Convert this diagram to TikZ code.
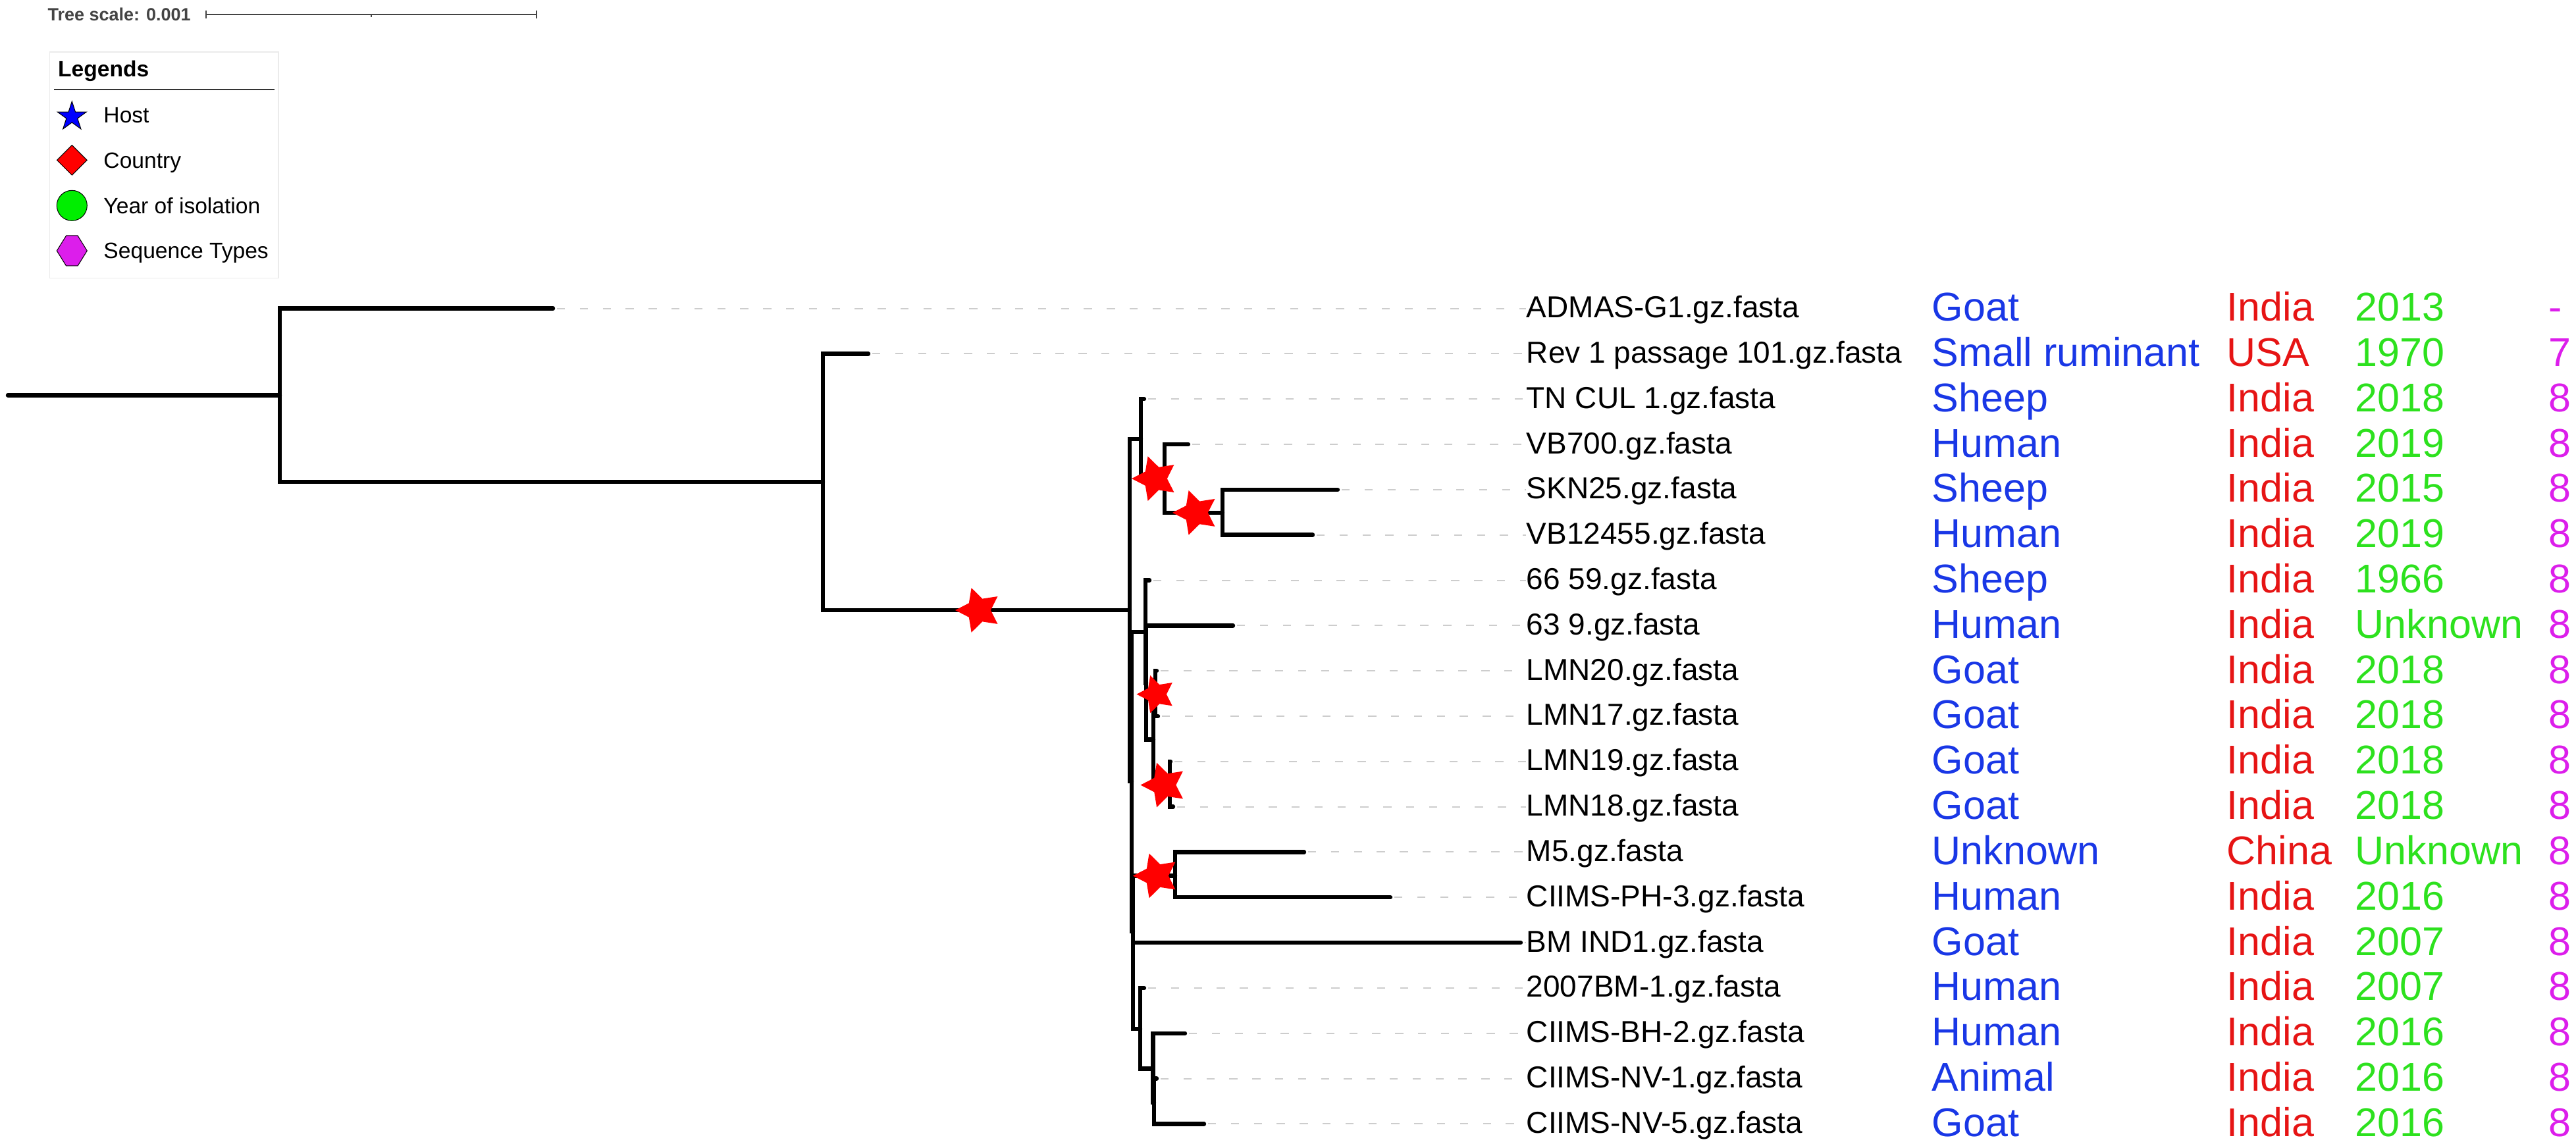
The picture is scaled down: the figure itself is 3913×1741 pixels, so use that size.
\documentclass[tikz,border=0pt]{standalone}
\usepackage{fontspec}
\setmainfont{Liberation Sans}
\usepackage{xcolor}
\usetikzlibrary{shapes.geometric,calc}

\definecolor{hostblue}{RGB}{25,55,230}
\definecolor{countryred}{RGB}{230,20,20}
\definecolor{yeargreen}{RGB}{45,225,30}
\definecolor{stmagenta}{RGB}{220,30,235}
\definecolor{guidegray}{RGB}{205,205,205}
\definecolor{scalegray}{RGB}{68,68,68}

\tikzset{
  branch/.style={line width=1.6pt,line cap=round},
  guide/.style={guidegray,line width=0.5pt,dash pattern=on 3.1pt off 5.6pt,shorten <=1.5pt},
  leaflabel/.style={anchor=west,inner sep=0pt,yshift=0.6pt,font=\fontsize{11.5pt}{13pt}\selectfont,text height=8.2pt,text depth=0pt},
  metalabel/.style={anchor=west,inner sep=0pt,yshift=0.7pt,font=\fontsize{15.25pt}{17pt}\selectfont,text height=10.9pt,text depth=0pt},
  redstar/.style={star,star points=5,star point ratio=1.95,shape border rotate=90,fill=red,inner sep=0pt,minimum size=17.8pt},
  legtext/.style={anchor=west,inner sep=0pt,font=\fontsize{8.4pt}{10pt}\selectfont,text height=6pt,text depth=0pt},
  legsym/.style={draw=black,line width=0.25pt,inner sep=0pt}
}

\begin{document}
\begin{tikzpicture}[x=0.25pt,y=-0.25pt]
\useasboundingbox (0,0) rectangle (3913,1741);

% tree scale
\node[anchor=west,inner sep=0pt,font=\bfseries\fontsize{6.75pt}{8pt}\selectfont,text=scalegray,text height=4.8pt,text depth=0pt] (scaletxt) at (71.7,21.5) {Tree scale: 0.001};
\coordinate (sb0) at (313,22.3);
\coordinate (sb1) at (815,22.3);
\draw[scalegray,line width=0.5pt] (sb0) -- (sb1);
\draw[scalegray,line width=0.5pt] ([yshift=1.5pt]sb0) -- ([yshift=-1.5pt]sb0);
\draw[scalegray,line width=0.5pt] ([yshift=1.5pt]sb1) -- ([yshift=-1.5pt]sb1);
\draw[scalegray,line width=0.5pt] ($(sb0)!.5!(sb1)$) -- ++(0,3.7);

% legend
\draw[black!8,fill=white,line width=0.3pt] (75.7,79) rectangle (423,422.7);
\node[anchor=base west,inner sep=0pt,font=\bfseries\fontsize{8.4pt}{10pt}\selectfont] (legtitle) at (87.3,116.7) {Legends};
\draw[black!80,line width=0.5pt] (82,135.7) -- (416.7,135.7);
\node[legsym,star,star points=5,star point ratio=2.618,fill=blue,minimum size=11.6pt] (khost) at (109.3,177.2) {};
\node[legsym,diamond,aspect=1,fill=red,minimum width=11.5pt,minimum height=11.5pt] (kcountry) at (109.3,243.3) {};
\node[legsym,circle,fill={rgb,255:red,0;green,238;blue,0},minimum size=11.5pt] (kyear) at (109.3,312.3) {};
\coordinate (kst) at (109.3,381);
\filldraw[stmagenta,draw=black,line width=0.25pt] ($(kst)+(-23,0)$) -- ++(14.3,-23) -- ++(17.4,0) -- ++(14.3,23) -- ++(-14.3,23) -- ++(-17.4,0) -- cycle;
\node[legtext] (thost) at (156.7,175) {Host};
\node[legtext] (tcountry) at (156.7,243.3) {Country};
\node[legtext] (tyear) at (156.7,312.3) {Year of isolation};
\node[legtext] (tst) at (156.7,381) {Sequence Types};

% leaves, guides and metadata
\foreach \i/\tip/\strain/\host/\place/\yr/\stype in {
  0/840/ADMAS-G1.gz.fasta/Goat/India/2013/-,
  1/1319/Rev 1 passage 101.gz.fasta/Small ruminant/USA/1970/7,
  2/1738/TN CUL 1.gz.fasta/Sheep/India/2018/8,
  3/1805/VB700.gz.fasta/Human/India/2019/8,
  4/2032/SKN25.gz.fasta/Sheep/India/2015/8,
  5/1994/VB12455.gz.fasta/Human/India/2019/8,
  6/1746/66 59.gz.fasta/Sheep/India/1966/8,
  7/1873/63 9.gz.fasta/Human/India/Unknown/8,
  8/1757/LMN20.gz.fasta/Goat/India/2018/8,
  9/1759/LMN17.gz.fasta/Goat/India/2018/8,
  10/1778/LMN19.gz.fasta/Goat/India/2018/8,
  11/1782/LMN18.gz.fasta/Goat/India/2018/8,
  12/1981/M5.gz.fasta/Unknown/China/Unknown/8,
  13/2112/CIIMS-PH-3.gz.fasta/Human/India/2016/8,
  14/2310/BM IND1.gz.fasta/Goat/India/2007/8,
  15/1738/2007BM-1.gz.fasta/Human/India/2007/8,
  16/1800/CIIMS-BH-2.gz.fasta/Human/India/2016/8,
  17/1757/CIIMS-NV-1.gz.fasta/Animal/India/2016/8,
  18/1829/CIIMS-NV-5.gz.fasta/Goat/India/2016/8}{
  \coordinate (t\i) at (\tip,{468.6+68.82*\i});
  \node[leaflabel] (lab\i) at (2318,{468.6+68.82*\i}) {\strain};
  \draw[guide] (t\i) -- (t\i -| lab\i.west);
  \node[metalabel,text=hostblue] (host\i) at (2934,{468.6+68.82*\i}) {\host};
  \node[metalabel,text=countryred] (country\i) at (3382,{468.6+68.82*\i}) {\place};
  \node[metalabel,text=yeargreen] (year\i) at (3577,{468.6+68.82*\i}) {\yr};
  \node[metalabel,text=stmagenta] (st\i) at (3871,{468.6+68.82*\i}) {\stype};
}

% internal nodes
\coordinate (stub) at (12,600.4);
\coordinate (root) at (425,600.4);
\coordinate (n2) at (1250,732.3);
\coordinate (n3) at (1716,927);
\coordinate (J) at (1733,666.8);
\coordinate (P) at (1769,727.1);
\coordinate (Q) at (1857,778.9);
\coordinate (K) at (1719,1187.2);
\coordinate (B) at (1740,959.9);
\coordinate (Bb) at (1741,1037.4);
\coordinate (C) at (1752,1123.6);
\coordinate (D) at (1755,1054.7);
\coordinate (E) at (1777,1192.6);
\coordinate (L) at (1721,1414.5);
\coordinate (MP) at (1785,1330.5);
\coordinate (Lb) at (1721,1498.5);
\coordinate (F) at (1732,1563.2);
\coordinate (G) at (1751.5,1623.5);
\coordinate (H) at (1753,1675.2);

% branches
\draw[branch] (stub) -- (root);
\draw[branch] (t0) -| (root) |- (n2);
\draw[branch] (t1) -| (n2) |- (n3);
\draw[branch] (J) -| (n3) |- (K);
\draw[branch] (t2) -| (J) |- (P);
\draw[branch] (t3) -| (P) |- (Q);
\draw[branch] (t4) -| (Q) |- (t5);
\draw[branch] (B) -| (K) |- (L);
\draw[branch] (t6) -| (B) |- (Bb);
\draw[branch] (t7) -| (Bb) |- (C);
\draw[branch] (D) -| (C) |- (E);
\draw[branch] (t8) -| (D) |- (t9);
\draw[branch] (t10) -| (E) |- (t11);
\draw[branch] (MP) -| (L) |- (Lb);
\draw[branch] (t12) -| (MP) |- (t13);
\draw[branch] (t14) -| (Lb) |- (F);
\draw[branch] (t15) -| (F) |- (G);
\draw[branch] (t16) -| (G) |- (H);
\draw[branch] (t17) -| (H) |- (t18);

% stars on branches
\node[redstar,xshift=0.9pt] (s1) at ($(n2|-n3)!.5!(n3)$) {};
\node[redstar,xshift=0.9pt] (s2) at ($(J|-P)!.5!(P)$) {};
\node[redstar,xshift=0.9pt] (s3) at ($(P|-Q)!.5!(Q)$) {};
\node[redstar,xshift=0.75pt,minimum size=15pt] (s4) at ($(C|-D)!.5!(D)$) {};
\node[redstar,xshift=0.9pt] (s5) at ($(C|-E)!.5!(E)$) {};
\node[redstar,xshift=0.9pt] (s6) at ($(L|-MP)!.5!(MP)$) {};
\end{tikzpicture}
\end{document}
